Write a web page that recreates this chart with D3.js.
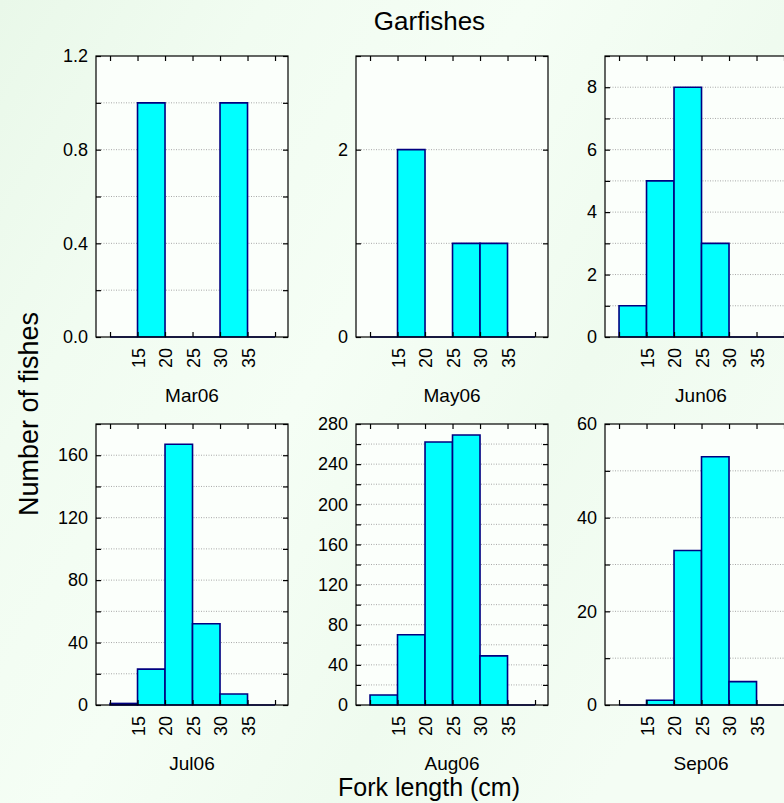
<!DOCTYPE html>
<html>
<head>
<meta charset="utf-8">
<script src="https://cdn.jsdelivr.net/npm/d3@7"></script>
<style>
  html, body { margin: 0; padding: 0; background: #f0fbf0; }
  svg { display: block; }
  text { font-family: "Liberation Sans", Arial, sans-serif; fill: #000; }
</style>
</head>
<body>
<script>
// Length classes (lower edge of each 5 cm bin)
const binStarts = [10, 15, 20, 25, 30, 35];
const binWidth = 5;
const tickEdges = [10, 15, 20, 25, 30, 35, 40];
const labelledEdges = [15, 20, 25, 30, 35];

// Sampling months
const months = ["Mar06", "May06", "Jun06", "Jul06", "Aug06", "Sep06"];

// Number of fishes per length class for each month
const mar06 = [0, 1, 0, 0, 1, 0];
const may06 = [0, 2, 0, 1, 1, 0];
const jun06 = [1, 5, 8, 3, 0, 0];
const jul06 = [1, 23, 167, 52, 7, 0];
const aug06 = [10, 70, 262, 269, 49, 0];
const sep06 = [0, 1, 33, 53, 5, 0];

// Y axis extents, labelled steps and gridline steps for each panel
const yMaxima = [1.2, 3, 9, 180, 280, 60];
const yLabelSteps = [0.4, 2, 2, 40, 40, 20];
const yGridSteps = [0.2, 1, 1, 20, 20, 10];

const counts = [mar06, may06, jun06, jul06, aug06, sep06];

const W = 784, H = 803;
const colLeft = [96, 356, 605];
const rowTop = [56, 424];
const pw = 192, ph = 281;

const svg = d3.select("body").append("svg")
  .attr("width", W).attr("height", H);

// soft green backdrop
const defs = svg.append("defs");
const grad = defs.append("linearGradient").attr("id", "bg")
  .attr("x1", "0").attr("y1", "0").attr("x2", "1").attr("y2", "0.6");
grad.append("stop").attr("offset", "0").attr("stop-color", "#e9f8e9");
grad.append("stop").attr("offset", "0.25").attr("stop-color", "#f1fcf1");
grad.append("stop").attr("offset", "0.5").attr("stop-color", "#f5fef5");
grad.append("stop").attr("offset", "0.75").attr("stop-color", "#effbef");
grad.append("stop").attr("offset", "1").attr("stop-color", "#f4fdf4");
svg.append("rect").attr("width", W).attr("height", H).attr("fill", "url(#bg)");

const x = d3.scaleLinear().domain([7.45, 42.36]).range([0, pw]);

months.forEach((m, i) => {
  const col = i % 3, row = Math.floor(i / 3);
  const g = svg.append("g")
    .attr("transform", `translate(${colLeft[col]},${rowTop[row]})`);

  const yMax = yMaxima[i];
  const y = d3.scaleLinear().domain([0, yMax]).range([ph, 0]);
  const gridVals = d3.range(0, yMax + 1e-9, yGridSteps[i]).map(v => +v.toFixed(6));
  const labelVals = d3.range(0, yMax + 1e-9, yLabelSteps[i]).map(v => +v.toFixed(6));
  const isLabel = v => labelVals.some(l => Math.abs(l - v) < 1e-6);
  const fmt = yMax < 2 ? d3.format(".1f") : d3.format("d");

  // plot area
  g.append("rect").attr("width", pw).attr("height", ph)
    .attr("fill", "#fbfffb");

  // dotted horizontal gridlines
  g.selectAll("line.grid")
    .data(gridVals.filter(v => v > 0 && v < yMax - 1e-9))
    .join("line")
    .attr("class", "grid")
    .attr("x1", 0).attr("x2", pw)
    .attr("y1", d => y(d)).attr("y2", d => y(d))
    .attr("stroke", "#a8a8a8").attr("stroke-width", 1)
    .attr("stroke-dasharray", "1,1.5");

  // histogram bars
  const bins = binStarts.map((b, k) => ({ x0: b, x1: b + binWidth, n: counts[i][k] }));
  g.selectAll("path.bar")
    .data(bins)
    .join("path")
    .attr("class", "bar")
    .attr("d", d => `M${x(d.x0)},${y(0)}V${y(d.n)}H${x(d.x1)}V${y(0)}Z`)
    .attr("fill", "#00ffff")
    .attr("stroke", "#000080")
    .attr("stroke-width", 1.6)
    .attr("stroke-linejoin", "miter");

  // frame
  g.append("rect").attr("width", pw).attr("height", ph)
    .attr("fill", "none").attr("stroke", "#000").attr("stroke-width", 1.2);

  // axes with inward ticks
  const left = g.append("g").call(
    d3.axisLeft(y).tickValues(gridVals).tickSize(-5).tickPadding(8)
      .tickFormat(d => isLabel(d) ? fmt(d) : ""));
  const right = g.append("g").attr("transform", `translate(${pw},0)`).call(
    d3.axisRight(y).tickValues(gridVals).tickSize(-5).tickFormat(""));
  const top = g.append("g").call(
    d3.axisTop(x).tickValues(tickEdges).tickSize(-5).tickFormat(""));
  const bottom = g.append("g").attr("transform", `translate(0,${ph})`).call(
    d3.axisBottom(x).tickValues(tickEdges).tickSize(-5)
      .tickFormat(d => labelledEdges.includes(d) ? d3.format("d")(d) : ""));

  [left, right, top, bottom].forEach(a => {
    a.select(".domain").remove();
    a.selectAll(".tick line").attr("stroke", "#000").attr("stroke-width", 1.2);
    a.selectAll("text").style("font-size", "18px")
      .style("font-family", "'Liberation Sans', Arial, sans-serif").attr("fill", "#000");
  });

  bottom.selectAll(".tick text")
    .style("font-size", "18px")
    .attr("transform", "rotate(-90)")
    .attr("x", -11).attr("y", 0).attr("dy", "0.36em")
    .style("text-anchor", "end");

  // month label
  g.append("text")
    .attr("x", pw / 2).attr("y", ph + 65)
    .attr("text-anchor", "middle")
    .style("font-size", "19px")
    .text(m);
});

// titles
svg.append("text").attr("x", 429.5).attr("y", 30)
  .attr("text-anchor", "middle").style("font-size", "26px").text("Garfishes");

svg.append("text")
  .attr("transform", "translate(38,414) rotate(-90)")
  .attr("text-anchor", "middle").style("font-size", "27px").text("Number of fishes");

svg.append("text").attr("x", 429).attr("y", 796)
  .attr("text-anchor", "middle").style("font-size", "25px").text("Fork length (cm)");
</script>
</body>
</html>
